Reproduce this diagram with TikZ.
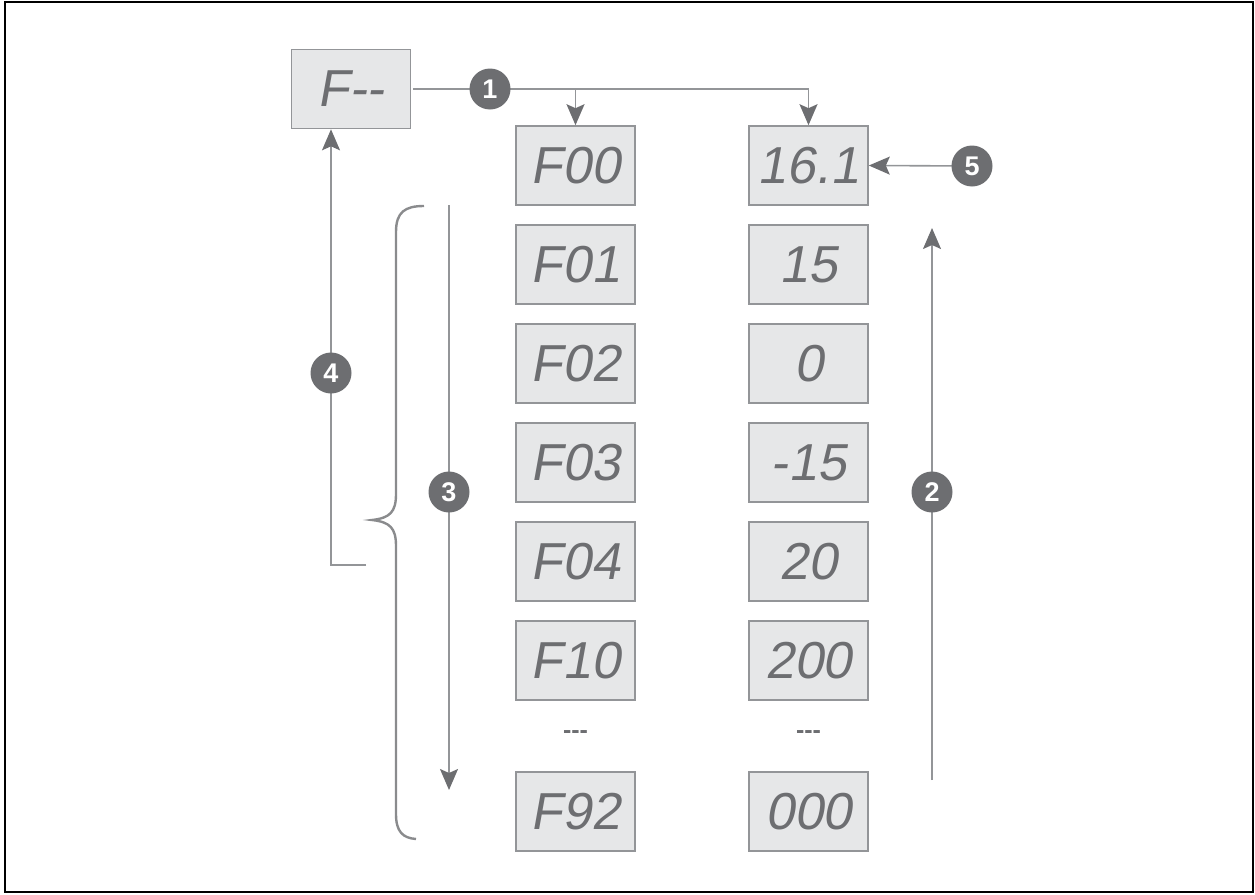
\documentclass[tikz,border=0pt]{standalone}
\usepackage{fontspec}
\setmainfont{Liberation Sans}
\newfontfamily\lcdfont[FakeSlant=0.18]{Liberation Sans}
\usepackage{tikz}
\usetikzlibrary{arrows.meta}
\definecolor{boxfill}{HTML}{E6E7E8}
\definecolor{boxline}{HTML}{939598}
\definecolor{lcdgray}{HTML}{6D6E71}
\tikzset{>={Stealth[length=21pt,width=18pt,inset=4pt,color=lcdgray]}}
\tikzset{lcd/.style = {shape=rectangle,draw=boxline,fill=boxfill,line width=1.6pt,
        minimum width=119pt,minimum height=79pt,inner sep=0pt,
        text=lcdgray,font=\lcdfont\fontsize{52}{56}\selectfont}}
\tikzset{badge/.style = {shape=circle,fill=lcdgray,minimum size=41pt,inner sep=0pt,
        text=white,font=\bfseries\fontsize{27}{29}\selectfont}}
\tikzset{flow/.style = {draw=boxline,line width=1.6pt}}
\tikzset{gap/.style = {text=lcdgray,font=\bfseries\fontsize{25}{27}\selectfont}}

\begin{document}
\begin{tikzpicture}[x=1pt,y=-1pt]
                \useasboundingbox (0,0) rectangle (1255,894);
                \draw[line width=2.2pt] (5,2) rectangle (1253,892);
                % menu entry
                \node[lcd] (Fmm) at (351,89) {F-{}-};
                % parameter codes
                \node[lcd] (L0) at (575.5,165.5) {F00};
                \node[lcd] (L1) at (575.5,264.5) {F01};
                \node[lcd] (L2) at (575.5,363.5) {F02};
                \node[lcd] (L3) at (575.5,462.5) {F03};
                \node[lcd] (L4) at (575.5,561.5) {F04};
                \node[lcd] (L5) at (575.5,660.5) {F10};
                \node[gap] (Ldots) at (575.5,735) {-{}-{}-};
                \node[lcd] (L6) at (575.5,811.5) {F92};
                % values
                \node[lcd] (R0) at (808.5,165.5) {16.1};
                \node[lcd] (R1) at (808.5,264.5) {15};
                \node[lcd] (R2) at (808.5,363.5) {0};
                \node[lcd] (R3) at (808.5,462.5) {-15};
                \node[lcd] (R4) at (808.5,561.5) {20};
                \node[lcd] (R5) at (808.5,660.5) {200};
                \node[gap] (Rdots) at (808.5,735) {-{}-{}-};
                \node[lcd] (R6) at (808.5,811.5) {000};
                % connectors
                \coordinate (split) at (575.5,89);
                \coordinate (turn) at (808.5,89);
                \draw[flow] ([xshift=2pt]Fmm.east) -- (turn);
                \draw[flow,->] (split) -- (L0.north);
                \draw[flow,->] (turn) -- (R0.north);
                \coordinate (five) at (972,166);
                \draw[flow,->] (five) -- (R0.east);
                \coordinate (up0) at (932,780);
                \coordinate (up1) at (932,228);
                \draw[flow,->] (up0) -- (up1);
                \coordinate (down0) at (449,205);
                \coordinate (down1) at (449,790);
                \draw[flow,->] (down0) -- (down1);
                \coordinate (back) at (366,565);
                \draw[flow,->] (back) -| ([xshift=-20pt]Fmm.south);
                % brace
                \draw[flow,line width=2.4pt,draw=lcdgray!80] (424,206) .. controls (405,206) and (396,212) .. (396,232)
                    -- (396,494) .. controls (396,512) and (390,518) .. (372,520)
                    .. controls (390,522) and (396,528) .. (396,546)
                    -- (396,814) .. controls (396,832) and (403,838) .. (416,839);
                % badges
                \node[badge] (n1) at (490,89) {1};
                \node[badge] (n2) at (932,492) {2};
                \node[badge] (n3) at (449,492) {3};
                \node[badge] (n4) at (331,373) {4};
                \node[badge] (n5) at (five) {5};
            \end{tikzpicture}
\end{document}
